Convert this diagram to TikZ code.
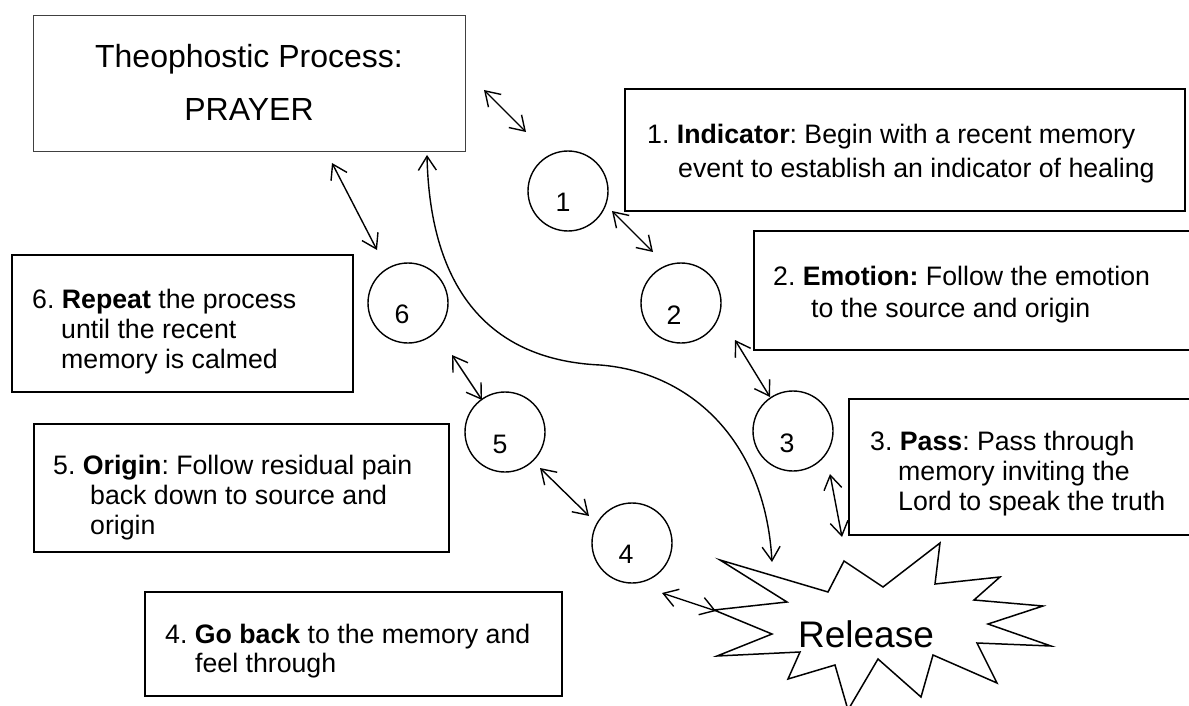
\documentclass[tikz,border=0pt]{standalone}
\usepackage{fontspec}
\setmainfont{Liberation Sans}
\usetikzlibrary{arrows.meta}
\frenchspacing
\newcommand{\btext}[2]{\parbox[t]{600pt}{\fontsize{26.7}{#1}\selectfont #2}}
\begin{document}
\begin{tikzpicture}[x=1pt,y=-1pt,
  boxst/.style={draw, line width=1.6pt, rectangle, inner sep=0, anchor=north west},
  titlebox/.style={draw=black!75, line width=1pt, rectangle, inner sep=0, anchor=north west},
  circ/.style={draw, circle, line width=1.4pt, minimum size=80pt, inner sep=0},
  txt/.style={anchor=base west, inner sep=0},
  num/.style={inner sep=0, font=\fontsize{26.7}{31}\selectfont},
  dbl/.style={line width=1.4pt, {Straight Barb[length=14pt,width=18pt]}-{Straight Barb[length=14pt,width=18pt]}},
  burst/.style={draw, fill=white, line width=1.5pt}
]
\useasboundingbox (0,0) rectangle (1189,706);
\fill[white] (0,0) rectangle (1189,706);

% title
\node[titlebox, minimum width=432pt, minimum height=136pt] (T) at (33,15) {};
\node[anchor=base, inner sep=0, font=\fontsize{32}{36}\selectfont] (Ta) at (249,68) {Theophostic Process:};
\node[anchor=base, inner sep=0, font=\fontsize{32}{36}\selectfont] (Tb) at (249,121) {PRAYER};

% text boxes
\node[boxst, minimum width=560pt, minimum height=122pt] (B1) at (624,88) {};
\node[txt] (X1) at (647,144) {\btext{34}{1. \textbf{Indicator}: Begin with a recent memory\\\hspace*{31pt}event to establish an indicator of healing}};

\node[boxst, minimum width=450pt, minimum height=119pt] (B2) at (753,230) {};
\node[txt] (X2) at (773,285) {\btext{32}{2. \textbf{Emotion:} Follow the emotion\\\hspace*{38pt}to the source and origin}};

\node[boxst, minimum width=360pt, minimum height=136pt] (B3) at (848,398) {};
\node[txt] (X3) at (870,450) {\btext{30}{3. \textbf{Pass}: Pass through\\\hspace*{28pt}memory inviting the\\\hspace*{28pt}Lord to speak the truth}};

\node[boxst, minimum width=417pt, minimum height=104pt] (B4) at (144,591) {};
\node[txt] (X4) at (165,643) {\btext{29}{4. \textbf{Go back} to the memory and\\\hspace*{30pt}feel through}};

\node[boxst, minimum width=415pt, minimum height=128pt] (B5) at (33,423) {};
\node[txt] (X5) at (53,474) {\btext{30}{5. \textbf{Origin}: Follow residual pain\\\hspace*{37pt}back down to source and\\\hspace*{37pt}origin}};

\node[boxst, minimum width=341pt, minimum height=137pt] (B6) at (11,254) {};
\node[txt] (X6) at (32,308) {\btext{30}{6. \textbf{Repeat} the process\\\hspace*{29pt}until the recent\\\hspace*{29pt}memory is calmed}};

% circles
\node[circ] (C1) at (568,191) {};
\node[circ] (C2) at (681,303) {};
\node[circ] (C3) at (793,431) {};
\node[circ] (C4) at (632,543) {};
\node[circ] (C5) at (505,432) {};
\node[circ] (C6) at (408,303) {};
\node[num] (N1) at (563,202) {1};
\node[num] (N2) at (674,315) {2};
\node[num] (N3) at (787,443) {3};
\node[num] (N4) at (626,554) {4};
\node[num] (N5) at (500,444) {5};
\node[num] (N6) at (402,314) {6};

% release burst
\draw[burst] (720,560) -- (828,592) -- (844,561) -- (883,587) -- (940,543) -- (935,584)
  -- (1000,577) -- (974,600) -- (1043,606) -- (988,624) -- (1051,646) -- (977,643)
  -- (997,683) -- (933,655) -- (921,697) -- (878,659) -- (848,710) -- (835,665)
  -- (788,679) -- (800,652) -- (717,656) -- (772,634) -- (714,610) -- (787,602) -- cycle;
\node[anchor=base, inner sep=0, font=\fontsize{37}{40}\selectfont] (R) at (866,647) {Release};

% connector end points
\coordinate (a1s) at (484,90);  \coordinate (a1e) at (526,132);
\coordinate (a2s) at (612,211); \coordinate (a2e) at (653,252);
\coordinate (a3s) at (332,163); \coordinate (a3e) at (377,250);
\coordinate (a4s) at (452,355); \coordinate (a4e) at (482,400);
\coordinate (a5s) at (735,340); \coordinate (a5e) at (770,397);
\coordinate (a6s) at (830,474); \coordinate (a6e) at (842,537);
\coordinate (a7s) at (540,468); \coordinate (a7e) at (589,516);
\coordinate (a8s) at (662,593); \coordinate (a8e) at (716,611);
\coordinate (cs) at (427,155);  \coordinate (ce) at (772,562);

\draw[dbl] (a1s) -- (a1e);
\draw[dbl] (a2s) -- (a2e);
\draw[dbl] (a3s) -- (a3e);
\draw[dbl] (a4s) -- (a4e);
\draw[dbl] (a5s) -- (a5e);
\draw[dbl] (a6s) -- (a6e);
\draw[dbl] (a7s) -- (a7e);
\draw[dbl] (a8s) -- (a8e);
\draw[dbl] (cs) .. controls (430,290) and (490,360) .. (600,365)
  .. controls (690,372) and (765,440) .. (ce);
\end{tikzpicture}
\end{document}
